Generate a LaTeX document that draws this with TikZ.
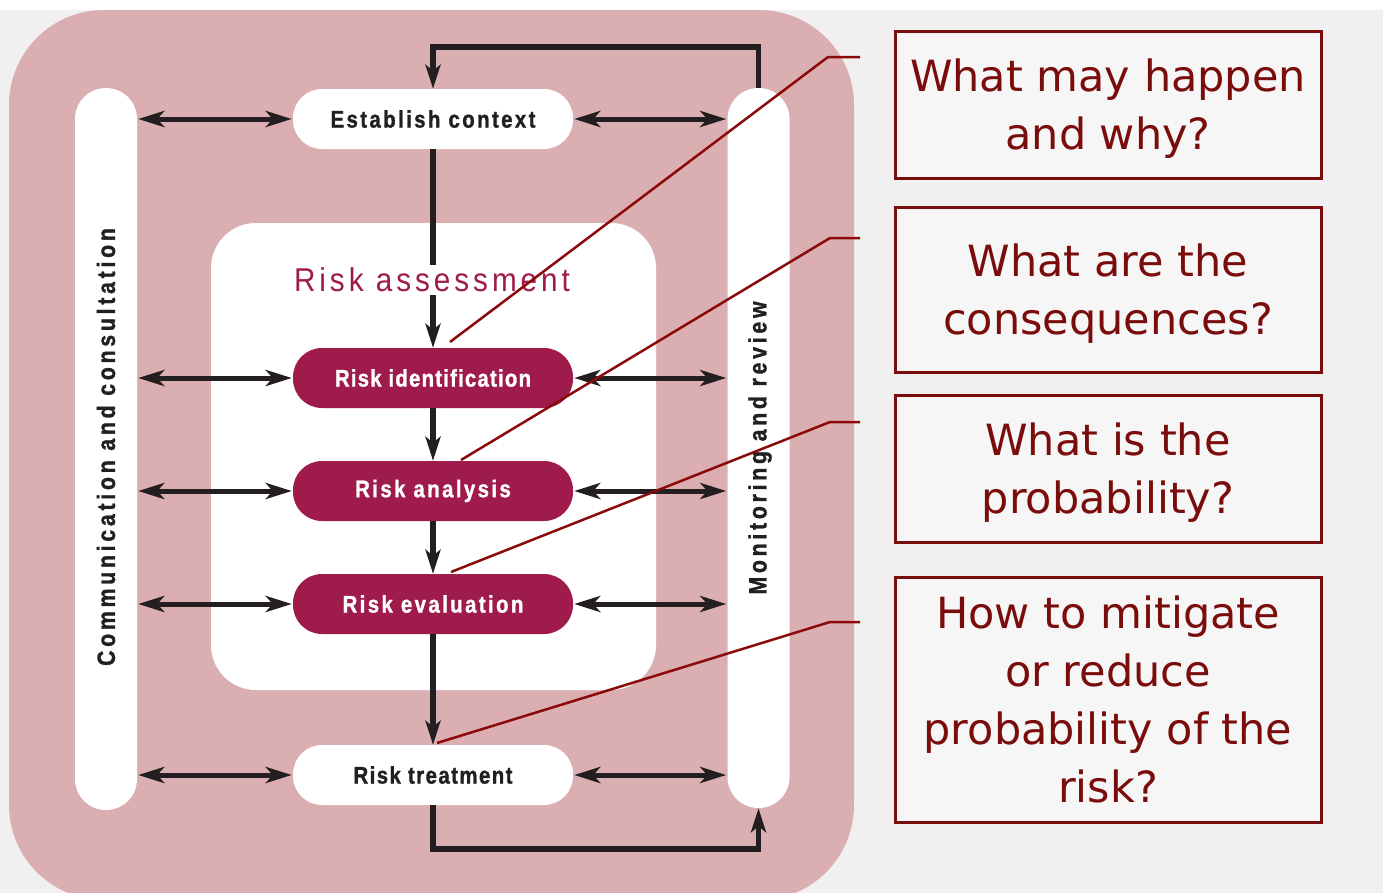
\documentclass[tikz,border=0pt]{standalone}
\usepackage{fontspec}
\setmainfont{DejaVu Sans}
\newfontfamily\labelfont[FakeStretch=0.85,LetterSpace=10,FakeBold=1.2]{Liberation Sans Bold}
\newfontfamily\sidefont[FakeStretch=0.85,LetterSpace=15,FakeBold=1.2]{Liberation Sans Bold}
\newfontfamily\titlefont[FakeStretch=0.9,LetterSpace=12]{Liberation Sans}
\newfontfamily\qfont{DejaVu Sans}
\usetikzlibrary{arrows.meta}

\definecolor{pinkbg}{HTML}{DBAFB2}
\definecolor{crimson}{HTML}{9E1B4B}
\definecolor{ink}{HTML}{231F20}
\definecolor{qred}{HTML}{7A0C0C}
\definecolor{callout}{HTML}{8A0A0A}
\definecolor{qfill}{HTML}{F6F6F6}

\tikzset{
  pill/.style={fill=white, rounded corners=29pt, minimum width=280pt,
    minimum height=60pt, inner sep=0pt, text=ink,
    font=\labelfont\fontsize{24}{26}\selectfont},
  riskbox/.style={pill, fill=crimson, text=white},
  sidebar/.style={fill=white, rounded corners=31pt, minimum width=62pt,
    inner sep=0pt},
  sidelabel/.style={rotate=90, text=ink, inner sep=0pt,
    font=\sidefont\fontsize{25}{27}\selectfont},
  flow/.style={draw=ink, line width=5.5pt,
    -{Stealth[length=24pt,width=15pt,inset=6pt]}},
  link/.style={draw=ink, line width=5pt,
    {Stealth[length=26pt,width=16pt,inset=7pt]}-{Stealth[length=26pt,width=16pt,inset=7pt]},
    shorten <=1pt, shorten >=1pt},
  qbox/.style={draw=qred, line width=3pt, fill=qfill, text=qred,
    minimum width=426pt, align=center, inner sep=0pt, text depth=0pt,
    font=\qfont\fontsize{43}{58}\selectfont},
  pointer/.style={draw=callout, line width=2.5pt, line join=round}
}

\begin{document}
\begin{tikzpicture}[x=1pt,y=-1pt]
  \useasboundingbox (0,0) rectangle (1383,892);
  % page background
  \shade[top color=white, bottom color=black!6] (0,0) rectangle (1383,892);
  \fill[black!6] (0,10) rectangle (1383,892);

  % outer pink frame and inner risk-assessment panel
  \fill[pinkbg, rounded corners=95pt] (9,10) rectangle (854,900);
  \fill[white, rounded corners=45pt] (211,223) rectangle (656,690);

  % side bars
  \node[sidebar, minimum height=722pt] (comm) at (106,449) {};
  \node[sidebar, minimum height=720pt] (mon) at (758.5,448) {};

  % process steps
  \node[pill]    (ec)  at (433,119) {Establish context};
  \node[riskbox] (ri)  at (433,378) {\addfontfeatures{LetterSpace=5}Risk identification};
  \node[riskbox] (ra)  at (433,491) {Risk analysis};
  \node[riskbox] (rev) at (433,604) {Risk evaluation};
  \node[pill]    (rt)  at (433,775) {\addfontfeatures{LetterSpace=6}Risk treatment};

  % main downward flow
  \draw[flow] (ec.south) -- (ri.north);
  \node[fill=white, text=crimson, inner xsep=2pt, inner ysep=3pt,
        font=\titlefont\fontsize{33}{35}\selectfont] (ra-title) at (432,280) {Risk assessment};
  \draw[flow] (ri.south) -- (ra.north);
  \draw[flow] (ra.south) -- (rev.north);
  \draw[flow] (rev.south) -- (rt.north);

  % feedback loops through monitoring and review
  \draw[flow, line join=miter] (mon.north) -- ++(0,-41) -| (ec.north);
  \draw[flow, line join=miter] (rt.south) -- ++(0,44) -| (mon.south);

  % two-way links to the side bars
  \foreach \n in {ec,ri,ra,rev,rt}{
    \draw[link] (comm.east |- \n.west) -- (\n.west);
    \draw[link] (\n.east) -- (mon.west |- \n.east);
  }

  % side bar labels
  \node[sidelabel] (commlabel) at (106,447) {Communication and consultation};
  \node[sidelabel] (monlabel)  at (760,448) {Monitoring and review};

  % question boxes
  \node[qbox, minimum height=147pt] (q1) at (1108,104.5) {What may happen\\and why?};
  \node[qbox, minimum height=165pt] (q2) at (1108,289.5) {What are the\\consequences?};
  \node[qbox, minimum height=147pt] (q3) at (1108,468.5) {What is the\\probability?};
  \node[qbox, minimum height=245pt] (q4) at (1108,699.5) {How to mitigate\\or reduce\\probability of the\\risk?};

  % callout lines from the questions to the steps
  \coordinate (s1) at (860,57);  \coordinate (k1) at (828,57);  \coordinate (t1) at (450,342);
  \coordinate (s2) at (860,238); \coordinate (k2) at (830,238); \coordinate (t2) at (461,460);
  \coordinate (s3) at (860,422); \coordinate (k3) at (830,422); \coordinate (t3) at (451,572);
  \coordinate (s4) at (860,622); \coordinate (k4) at (830,622); \coordinate (t4) at (437,743);
  \draw[pointer] (s1) -- (k1) -- (t1);
  \draw[pointer] (s2) -- (k2) -- (t2);
  \draw[pointer] (s3) -- (k3) -- (t3);
  \draw[pointer] (s4) -- (k4) -- (t4);
\end{tikzpicture}
\end{document}
